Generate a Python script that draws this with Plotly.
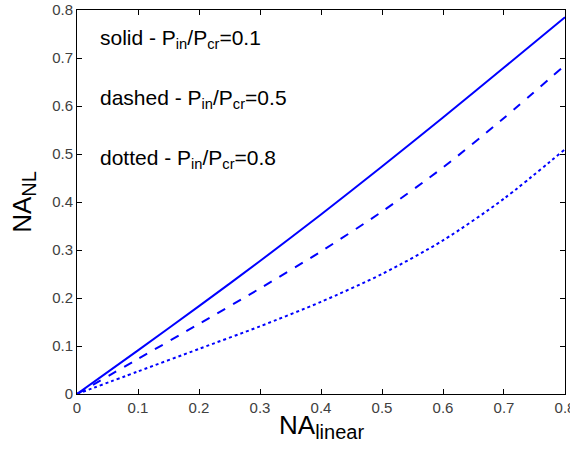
import plotly.graph_objects as go

na_linear = [0.0, 0.1, 0.2, 0.3, 0.4, 0.5, 0.6, 0.7, 0.8]
na_nl_solid = [0.0, 0.091, 0.183, 0.277, 0.374, 0.474, 0.576, 0.68, 0.785]
na_nl_dashed = [0.0, 0.073, 0.146, 0.22, 0.297, 0.38, 0.472, 0.575, 0.685]
na_nl_dotted = [0.0, 0.047, 0.094, 0.141, 0.192, 0.25, 0.32, 0.407, 0.51]

labels = [
    "solid - P<sub>in</sub>/P<sub>cr</sub>=0.1",
    "dashed - P<sub>in</sub>/P<sub>cr</sub>=0.5",
    "dotted - P<sub>in</sub>/P<sub>cr</sub>=0.8",
]
label_y = [0.74, 0.615, 0.49]
tick_vals = [0, 0.1, 0.2, 0.3, 0.4, 0.5, 0.6, 0.7, 0.8]
tick_text = ["0", "0.1", "0.2", "0.3", "0.4", "0.5", "0.6", "0.7", "0.8"]
x_title = "NA<sub><span style='font-size:20px'>linear</span></sub>"
y_title = "NA<sub><span style='font-size:20px'>NL</span></sub>"

fig = go.Figure()
for ys, dash in [(na_nl_solid, "solid"), (na_nl_dashed, "dash"), (na_nl_dotted, "dot")]:
    fig.add_trace(go.Scatter(x=na_linear, y=ys, mode="lines",
                             line=dict(color="#0000ff", width=2, dash=dash),
                             line_shape="spline", line_smoothing=0.8, showlegend=False))

for t, y in zip(labels, label_y):
    fig.add_annotation(x=0.035, y=y, xref="x", yref="y", text=t, showarrow=False,
                       xanchor="left", yanchor="middle",
                       font=dict(family="Arial, Liberation Sans", size=21, color="black"))

fig.add_annotation(x=0.5, y=0, xref="paper", yref="paper", text=x_title, showarrow=False,
                   xanchor="center", yanchor="top", yshift=-14,
                   font=dict(family="Arial, Liberation Sans", size=26, color="black"))

axis_common = dict(showline=True, linecolor="black", linewidth=1, mirror="ticks",
                   ticks="inside", ticklen=5, tickcolor="black", showgrid=False,
                   zeroline=False, tickvals=tick_vals, ticktext=tick_text, automargin=False,
                   ticklabeloverflow="allow",
                   tickfont=dict(family="Liberation Sans, Arial", size=15, color="#404040"))

fig.update_xaxes(range=[0, 0.80001], **axis_common)
fig.update_yaxes(range=[0, 0.80001], title=dict(
    text=y_title, standoff=13,
    font=dict(family="Arial, Liberation Sans", size=26, color="black")), **axis_common)

fig.update_layout(width=570, height=452, margin=dict(l=77, r=5, t=10, b=58),
                  plot_bgcolor="white", paper_bgcolor="white")

fig.write_html("out.html", config={"displayModeBar": False},
               post_script="document.body.style.margin='0';")
